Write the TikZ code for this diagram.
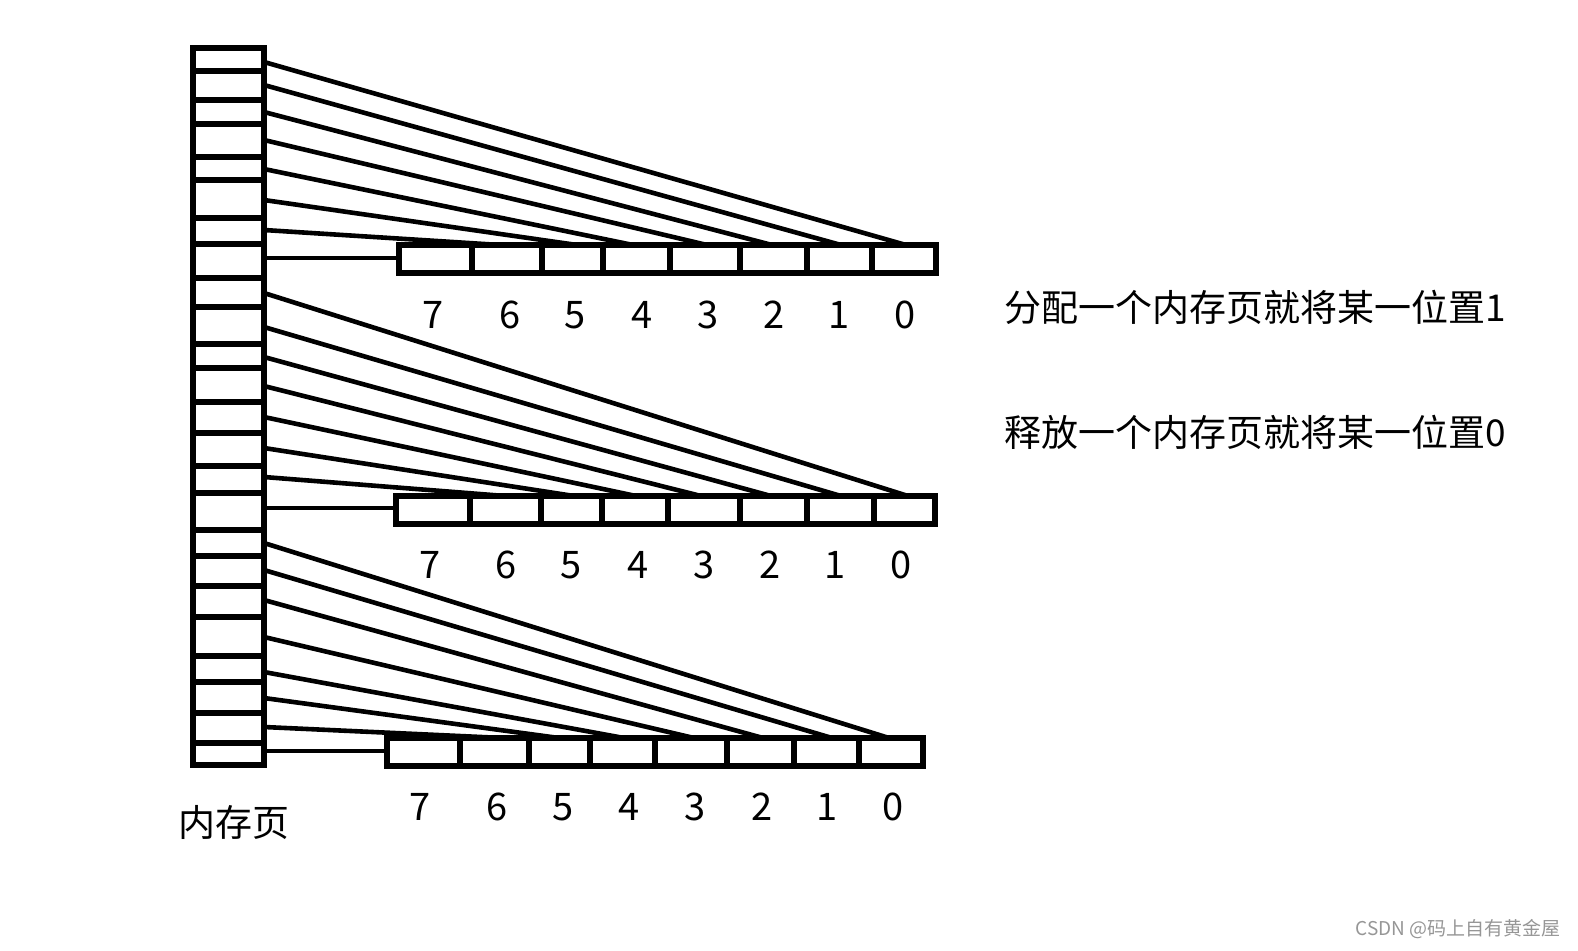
\documentclass[tikz,border=0pt]{standalone}
\usepackage{fontspec}
\setmainfont{Noto Sans CJK SC}
\definecolor{wmgray}{RGB}{150,150,150}
\begin{document}
\begin{tikzpicture}[x=1pt,y=-1pt,
  cell/.style={draw, rectangle, inner sep=0pt, line width=5.5pt},
  wire/.style={line width=4.6pt},
  lbl/.style={font=\fontsize{37}{40}\selectfont, inner sep=0pt},
  digit/.style={font=\fontsize{38}{40}\selectfont, inner sep=0pt, anchor=base},
  wm/.style={font=\fontsize{19}{21}\selectfont, text=wmgray, inner sep=0pt}]
\useasboundingbox (0,0) rectangle (1578,950);
% memory page column
\foreach \a/\b [count=\i] in {48/71,71/100,100/124,124/157,157/180,180/218,218/244,244/278,278/307,307/344,344/368,368/402,402/433,433/466,466/493,493/530,530/556,556/586,586/617,617/656,656/682,682/713,713/743,743/765}{
  \pgfmathsetmacro\h{\b-\a}
  \pgfmathsetmacro\m{(\a+\b)/2}
  \node[cell, minimum width=71pt, minimum height=\h pt] (c\i) at (228.5,\m) {};
}
\node[lbl] (pagelbl) at (234,822) {内存页};
% ---------- group 1 ----------
\foreach \l/\r [count=\i] in {399/472,472/542,542/603,603/670,670/740,740/807,807/872,872/936}{
  \pgfmathsetmacro\w{\r-\l}
  \pgfmathsetmacro\cx{(\l+\r)/2}
  \node[cell, minimum width=\w pt, minimum height=28pt] (ba\i) at (\cx,259) {};
}
\foreach \y/\x [count=\i] in {62/906,85/841,112/772,140/707,169/633,200/577,230/500}{
  \coordinate (sa\i) at (264,\y);
  \coordinate (ea\i) at (\x,245);
  \draw[wire] (sa\i) -- (ea\i);
}
\coordinate (sa8) at (264,258);
\draw[wire] (sa8) -- (sa8 -| ba1.west);
\foreach \d/\x [count=\i] in {7/433,6/510,5/575,4/642,3/708,2/774,1/839,0/905}{
  \node[digit] (da\i) at (\x,328) {\d};
}
% ---------- group 2 ----------
\foreach \l/\r [count=\i] in {396/470,470/541,541/602,602/668,668/740,740/807,807/874,874/935}{
  \pgfmathsetmacro\w{\r-\l}
  \pgfmathsetmacro\cx{(\l+\r)/2}
  \node[cell, minimum width=\w pt, minimum height=28pt] (bb\i) at (\cx,510) {};
}
\foreach \y/\x [count=\i] in {293/908,327/841,357/771,386/701,417/636,448/574,477/505}{
  \coordinate (sb\i) at (264,\y);
  \coordinate (eb\i) at (\x,496);
  \draw[wire] (sb\i) -- (eb\i);
}
\coordinate (sb8) at (264,508);
\draw[wire] (sb8) -- (sb8 -| bb1.west);
\foreach \d/\x [count=\i] in {7/430,6/506,5/571,4/638,3/704,2/770,1/835,0/901}{
  \node[digit] (db\i) at (\x,578) {\d};
}
% ---------- group 3 ----------
\foreach \l/\r [count=\i] in {387/460,460/529,529/590,590/655,655/727,727/794,794/859,859/923}{
  \pgfmathsetmacro\w{\r-\l}
  \pgfmathsetmacro\cx{(\l+\r)/2}
  \node[cell, minimum width=\w pt, minimum height=28pt] (bc\i) at (\cx,752) {};
}
\foreach \y/\x [count=\i] in {543/889,570/832,600/763,637/694,672/624,698/559,727/503}{
  \coordinate (sc\i) at (264,\y);
  \coordinate (ec\i) at (\x,738);
  \draw[wire] (sc\i) -- (ec\i);
}
\coordinate (sc8) at (264,751);
\draw[wire] (sc8) -- (sc8 -| bc1.west);
\foreach \d/\x [count=\i] in {7/420,6/497,5/563,4/629,3/695,2/762,1/827,0/893}{
  \node[digit] (dc\i) at (\x,820) {\d};
}
% ---------- notes ----------
\node[lbl, anchor=west] (alloc) at (1004,307) {分配一个内存页就将某一位置1};
\node[lbl, anchor=west] (free) at (1004,432) {释放一个内存页就将某一位置0};
\node[wm, anchor=east] (mark) at (1561,929) {CSDN @码上自有黄金屋};
\end{tikzpicture}
\end{document}
